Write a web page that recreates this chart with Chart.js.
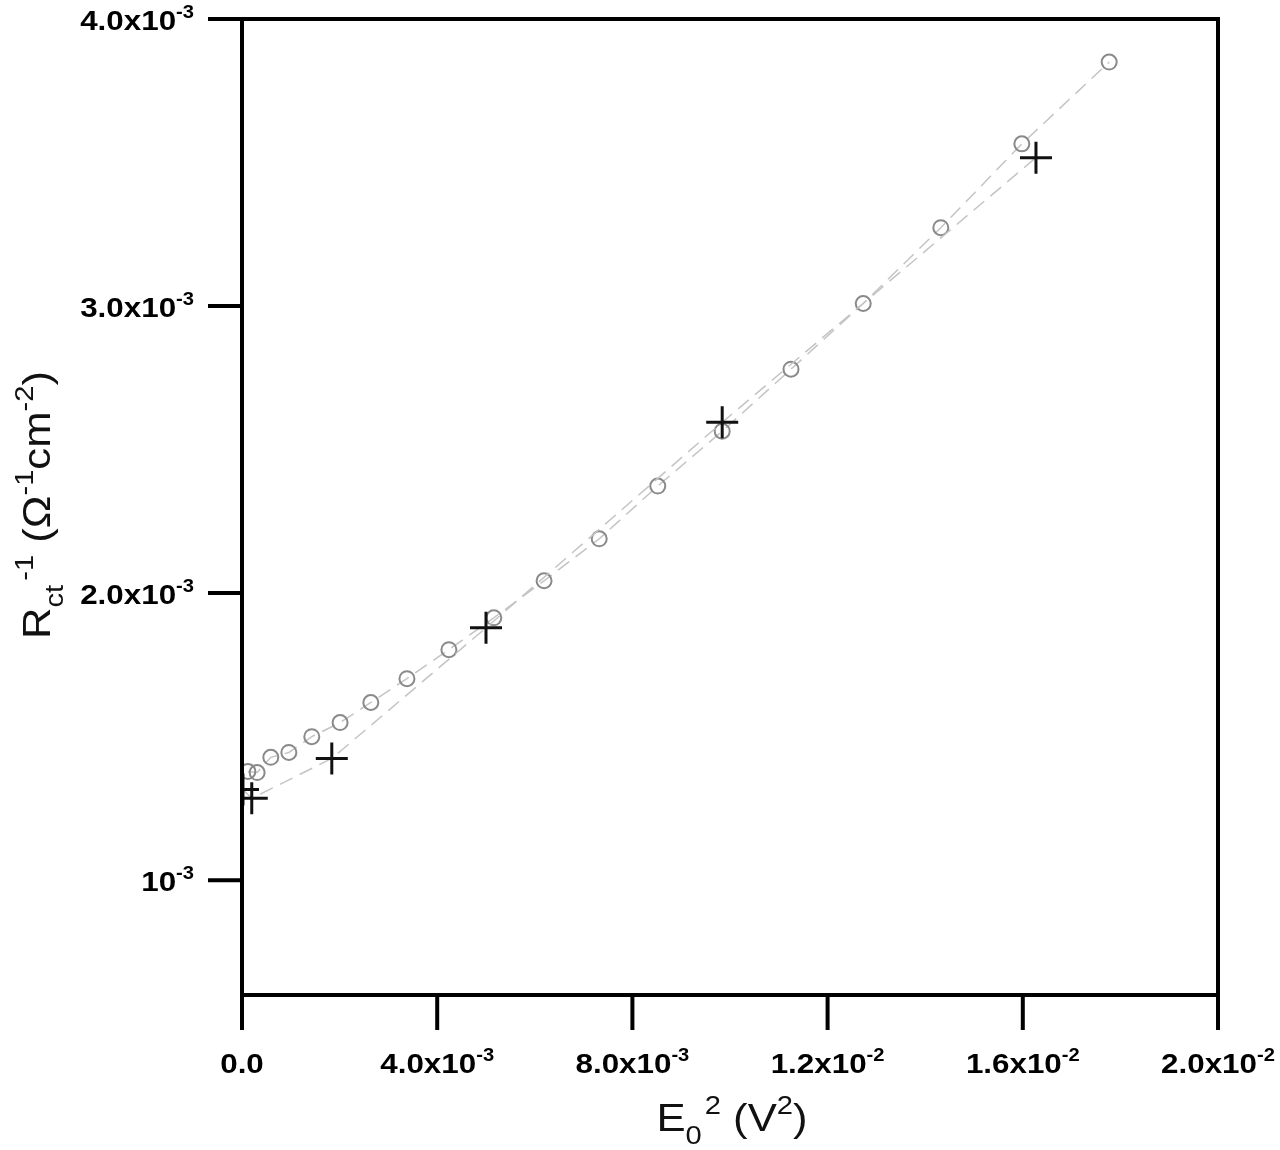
<!DOCTYPE html>
<html>
<head>
<meta charset="utf-8">
<script src="https://cdn.jsdelivr.net/npm/chart.js@4.4.1/dist/chart.umd.min.js"></script>
<style>
html,body{margin:0;padding:0;background:#fff;}
#wrap{width:1280px;height:1150px;}
</style>
</head>
<body>
<div id="wrap"><canvas id="c" width="1280" height="1150"></canvas></div>
<script>
// ---- data ----
const circleX = [0.00012,0.00031,0.00059,0.00096,0.00143,0.00201,0.00264,0.00338,0.00424,0.00516,0.00619,0.00732,0.00852,0.00984,0.01125,0.01273,0.01432,0.01598,0.01777];
const circleY = [0.001379,0.001375,0.001428,0.001445,0.001500,0.001549,0.001619,0.001702,0.001803,0.001914,0.002043,0.002189,0.002373,0.002564,0.002780,0.003009,0.003273,0.003565,0.003850];
const plusX = [0.00002,0.00020,0.00184,0.00500,0.00984,0.01627];
const plusY = [0.001316,0.001285,0.001424,0.001879,0.002595,0.003517];

const xTicks = [0, 0.004, 0.008, 0.012, 0.016, 0.020];
const xTickMant = ["0.0","4.0x10","8.0x10","1.2x10","1.6x10","2.0x10"];
const xTickExp  = ["","-3","-3","-2","-2","-2"];
const yTicks = [0.001, 0.002, 0.003, 0.004];
const yTickMant = ["10","2.0x10","3.0x10","4.0x10"];
const yTickExp  = ["-3","-3","-3","-3"];

const xTitle = [{t:"E",s:"n"},{t:"0",s:"sub"},{t:"2",s:"sup",gap:3},{t:" (V",s:"n"},{t:"2",s:"sup"},{t:")",s:"n"}];
const yTitle = [{t:"R",s:"n"},{t:"ct",s:"sub"},{t:"-1",s:"sup",gap:4},{t:" (Ω",s:"n"},{t:"-1",s:"sup"},{t:"cm",s:"n"},{t:"-2",s:"sup"},{t:")",s:"n"}];

const FAM = '"Liberation Sans", Arial, sans-serif';
const STRETCH = 1.12;

function richWidth(ctx, segs, size, small, weight){
  let w = 0;
  for (const s of segs){
    ctx.font = weight + ' ' + (s.s==='n'?size:small) + 'px ' + FAM;
    w += ctx.measureText(s.t).width * STRETCH + (s.gap||0);
  }
  return w;
}
function drawRich(ctx, segs, x, y, align, size, small, weight, supDy, subDy){
  const w = richWidth(ctx, segs, size, small, weight);
  let cx = align==='center' ? x - w/2 : (align==='right' ? x - w : x);
  ctx.textBaseline = 'alphabetic';
  ctx.textAlign = 'left';
  for (const s of segs){
    ctx.font = weight + ' ' + (s.s==='n'?size:small) + 'px ' + FAM;
    const dy = s.s==='sup' ? -supDy : (s.s==='sub' ? subDy : 0);
    cx += (s.gap||0);
    ctx.save();
    ctx.translate(cx, y + dy);
    ctx.scale(STRETCH, 1);
    ctx.fillText(s.t, 0, 0);
    ctx.restore();
    cx += ctx.measureText(s.t).width * STRETCH;
  }
}

const framePlugin = {
  id: 'frame',
  afterDraw(chart){
    const ctx = chart.ctx;
    const xs = chart.scales.x, ys = chart.scales.y;
    const L = xs.getPixelForValue(0), R = xs.getPixelForValue(0.02);
    const T = ys.getPixelForValue(0.004), B = ys.getPixelForValue(ys.min);
    ctx.save();
    ctx.strokeStyle = '#000';
    ctx.lineWidth = 4;
    ctx.lineCap = 'square';
    ctx.strokeRect(L, T, R-L, B-T);
    ctx.lineCap = 'butt';
    xTicks.forEach(v=>{
      const px = xs.getPixelForValue(v);
      ctx.beginPath(); ctx.moveTo(px, B); ctx.lineTo(px, B+35); ctx.stroke();
    });
    yTicks.forEach(v=>{
      const py = ys.getPixelForValue(v);
      ctx.beginPath(); ctx.moveTo(L, py); ctx.lineTo(L-34, py); ctx.stroke();
    });
    ctx.fillStyle = '#000';
    xTicks.forEach((v,i)=>{
      const px = xs.getPixelForValue(v);
      const segs = [{t:xTickMant[i],s:'n'}];
      if (xTickExp[i]) segs.push({t:xTickExp[i],s:'sup'});
      drawRich(ctx, segs, px, 1073, 'center', 28, 18, 'bold', 12, 0);
    });
    yTicks.forEach((v,i)=>{
      const py = ys.getPixelForValue(v);
      const segs = [{t:yTickMant[i],s:'n'},{t:yTickExp[i],s:'sup'}];
      drawRich(ctx, segs, 194, py+11, 'right', 28, 18, 'bold', 12, 0);
    });
    ctx.fillStyle = '#111';
    drawRich(ctx, xTitle, 732, 1131, 'center', 39, 26, 'normal', 17, 13);
    ctx.translate(50, 505);
    ctx.rotate(-Math.PI/2);
    drawRich(ctx, yTitle, 0, 0, 'center', 39, 26, 'normal', 17, 13);
    ctx.restore();
  }
};

const toPts = (xa, ya) => xa.map((x,i)=>({x:x, y:ya[i]}));

new Chart(document.getElementById('c'), {
  type: 'scatter',
  data: {
    datasets: [
      {
        data: toPts(plusX, plusY),
        showLine: true,
        borderColor: '#c4c4c4',
        borderWidth: 1.5,
        borderDash: [14, 8],
        pointStyle: 'cross',
        pointRadius: 16,
        pointBorderWidth: 3,
        pointBorderColor: '#111',
        pointBackgroundColor: '#111'
      },
      {
        data: toPts(circleX, circleY),
        showLine: true,
        borderColor: '#c4c4c4',
        borderWidth: 1.5,
        borderDash: [14, 8],
        pointStyle: 'circle',
        pointRadius: 7.5,
        pointBorderWidth: 2,
        pointBorderColor: '#8a8a8a',
        pointBackgroundColor: 'rgba(255,255,255,0)'
      }
    ]
  },
  options: {
    responsive: false,
    animation: false,
    layout: { padding: { left: 242, right: 62, top: 18, bottom: 155 } },
    plugins: { legend: { display: false }, tooltip: { enabled: false } },
    scales: {
      x: { type: 'linear', display: false, min: 0, max: 0.02 },
      y: { type: 'linear', display: false, min: 0.0006, max: 0.004 }
    }
  },
  plugins: [framePlugin]
});
</script>
</body>
</html>
